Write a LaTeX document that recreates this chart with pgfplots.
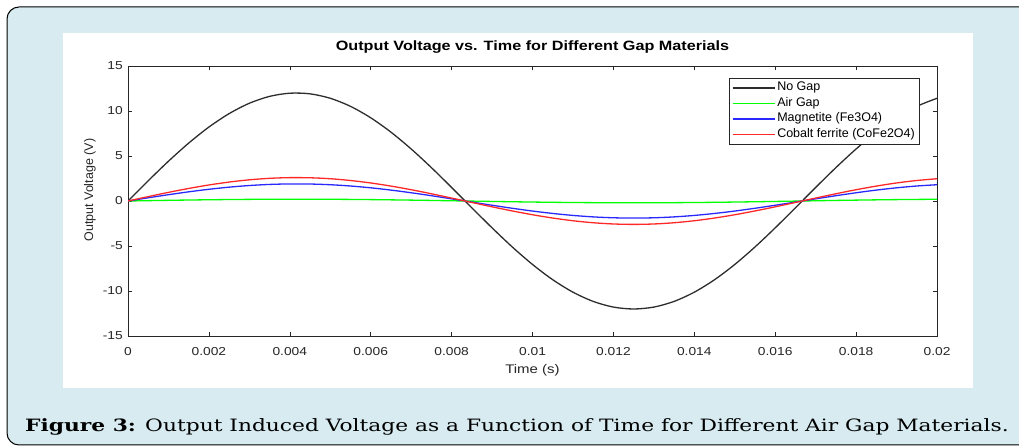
\documentclass[border=0pt]{standalone}
\usepackage{pgfplots}
\pgfplotsset{compat=1.18}
\usepackage{pgfplotstable}
\usepackage{fontspec}
\setmainfont{DejaVu Serif}
\newfontfamily\capfont[FakeStretch=1.28]{DejaVu Serif}
\newfontfamily\ticksf[FakeStretch=1.2]{Liberation Sans}
\newfontfamily\plainsf{Liberation Sans}

\definecolor{framebg}{RGB}{215,235,240}
\definecolor{axgray}{RGB}{38,38,38}
\definecolor{nogapc}{RGB}{45,45,45}
\definecolor{airc}{RGB}{0,255,0}
\definecolor{magc}{RGB}{40,40,255}
\definecolor{cofec}{RGB}{255,40,40}

% t, no gap, air gap, magnetite, cobalt ferrite
\pgfplotstableread{
t       nogap    air     mag     cofe
0       0        0       0       0
0.0005  2.249    0.037   0.356   0.487
0.001   4.417    0.074   0.699   0.957
0.0015  6.430    0.107   1.018   1.393
0.002   8.215    0.137   1.301   1.780
0.0025  9.708    0.162   1.537   2.103
0.003   10.858   0.181   1.719   2.353
0.0035  11.623   0.194   1.840   2.518
0.004   11.976   0.200   1.896   2.595
0.0045  11.905   0.198   1.885   2.579
0.005   11.413   0.190   1.807   2.473
0.0055  10.516   0.175   1.665   2.278
0.006   9.246    0.154   1.464   2.003
0.0065  7.649    0.127   1.211   1.657
0.007   5.781    0.096   0.915   1.253
0.0075  3.708    0.062   0.587   0.803
0.008   1.504    0.025   0.238   0.326
0.0085  -0.753   -0.013  -0.119  -0.163
0.009   -2.984   -0.050  -0.473  -0.647
0.0095  -5.109   -0.085  -0.809  -1.107
0.01    -7.053   -0.118  -1.117  -1.528
0.0105  -8.748   -0.146  -1.385  -1.895
0.011   -10.132  -0.169  -1.604  -2.195
0.0115  -11.157  -0.186  -1.767  -2.417
0.012   -11.787  -0.196  -1.866  -2.554
0.0125  -12.000  -0.200  -1.900  -2.600
0.013   -11.787  -0.196  -1.866  -2.554
0.0135  -11.157  -0.186  -1.767  -2.417
0.014   -10.132  -0.169  -1.604  -2.195
0.0145  -8.748   -0.146  -1.385  -1.895
0.015   -7.053   -0.118  -1.117  -1.528
0.0155  -5.109   -0.085  -0.809  -1.107
0.016   -2.984   -0.050  -0.473  -0.647
0.0165  -0.753   -0.013  -0.119  -0.163
0.017   1.504    0.025   0.238   0.326
0.0175  3.708    0.062   0.587   0.803
0.018   5.781    0.096   0.915   1.253
0.0185  7.649    0.127   1.211   1.657
0.019   9.246    0.154   1.464   2.003
0.0195  10.516   0.175   1.665   2.278
0.02    11.413   0.190   1.807   2.473
}\voltdata

\begin{document}
\begin{tikzpicture}[x=1bp,y=1bp]
\path[use as bounding box] (0,0) rectangle (1019,448);
\begin{scope}
\clip (0,0) rectangle (1019,448);
\draw[fill=framebg, draw=black, line width=1bp, rounded corners=12bp] (7,3) rectangle (1040,441);
\end{scope}
\fill[white] (63,60) rectangle (973,415);

\begin{axis}[
    at={(128bp,112bp)}, anchor=south west,
    scale only axis,
    width=809bp, height=270bp,
    xmin=0, xmax=0.02, ymin=-15, ymax=15,
    scaled x ticks=false, scaled y ticks=false,
    xtick={0,0.002,0.004,0.006,0.008,0.01,0.012,0.014,0.016,0.018,0.02},
    xticklabels={0,0.002,0.004,0.006,0.008,0.01,0.012,0.014,0.016,0.018,0.02},
    ytick={-15,-10,-5,0,5,10,15},
    yticklabels={-15,-10,-5,0,5,10,15},
    tick align=inside,
    major tick length=4bp,
    every tick/.style={axgray, line width=0.6bp},
    axis line style={axgray, line width=0.8bp},
    ticklabel style={font=\ticksf\fontsize{11.5bp}{13bp}\selectfont, text=axgray},
    xticklabel style={anchor=north, inner sep=0pt, yshift=-11bp},
    yticklabel style={anchor=east, inner sep=0pt, xshift=-5bp},
    title={Output Voltage vs. Time for Different Gap Materials},
    title style={font=\ticksf\bfseries\fontsize{13.5bp}{15bp}\selectfont, at={(0.5,1)}, anchor=south, inner sep=0pt, yshift=6bp},
    xlabel={Time (s)},
    xlabel style={font=\ticksf\fontsize{12.5bp}{14bp}\selectfont, text=axgray, at={(axis description cs:0.5,-0.126)}, anchor=center},
    ylabel={Output Voltage (V)},
    ylabel style={font=\plainsf\fontsize{12.5bp}{14bp}\selectfont, text=axgray, at={(axis description cs:-0.047,0.54)}, anchor=center},
    legend cell align=left,
    legend image code/.code={\draw[#1] plot coordinates {(0bp,0bp) (21bp,0bp) (42bp,0bp)};},
    legend style={name=myleg, at={(1,1)}, anchor=north east, xshift=-18bp, yshift=-12bp,
        font=\plainsf\fontsize{12.5bp}{14bp}\selectfont, draw=none,
        nodes={text height=8.5bp, text depth=3bp, inner sep=2bp},
        inner sep=2bp, row sep=0pt, fill=white},
]
\addplot[color=nogapc, draw=nogapc, line width=1.3bp, smooth] table[x=t, y=nogap] {\voltdata};
\addlegendentry{No Gap}
\addplot[color=airc, draw=airc, line width=1.3bp, smooth] table[x=t, y=air] {\voltdata};
\addlegendentry{Air Gap}
\addplot[color=magc, draw=magc, line width=1.3bp, smooth] table[x=t, y=mag] {\voltdata};
\addlegendentry{Magnetite (Fe3O4)}
\addplot[color=cofec, draw=cofec, line width=1.3bp, smooth] table[x=t, y=cofe] {\voltdata};
\addlegendentry{Cobalt ferrite (CoFe2O4)}
\end{axis}
\draw[axgray, line width=0.7bp] (myleg.south west) rectangle (myleg.north east);

\node[anchor=base west, inner sep=0pt, font=\capfont\fontsize{17bp}{20bp}\selectfont] at (25,16)
  {\textbf{Figure 3:} Output Induced Voltage as a Function of Time for Different Air Gap Materials.};
\end{tikzpicture}
\end{document}
